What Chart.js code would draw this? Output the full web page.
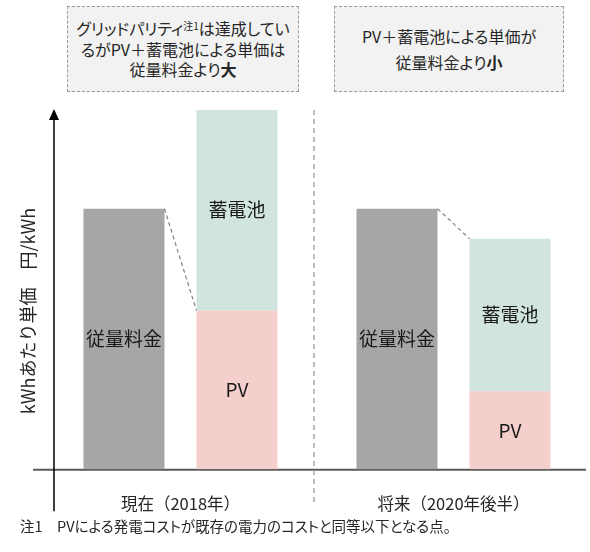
<!DOCTYPE html>
<html lang="ja">
<head>
<meta charset="utf-8">
<script src="https://cdn.jsdelivr.net/npm/chart.js@4.4.1/dist/chart.umd.min.js"></script>
<style>
  html, body { margin: 0; padding: 0; background: #fff; }
  body {
    width: 590px; height: 552px; position: relative; overflow: hidden;
    font-family: "Noto Sans CJK JP", "Noto Sans", sans-serif; color: #262626;
  }
  #wrap { position: absolute; left: 0; top: 0; width: 590px; height: 552px; }
  .note-box {
    position: absolute; top: 6px; height: 86px; box-sizing: border-box;
    border: 1.5px dashed #9a9a9a; background: #f2f2f2;
    display: flex; align-items: center; justify-content: center;
    text-align: center; font-size: 16px; font-feature-settings: "palt";
  }
  .note-box sup { font-size: 10px; line-height: 0; vertical-align: 5px; }
  .note-box b { font-weight: 700; }
  #box-now { left: 67px; width: 232px; line-height: 20.5px; }
  #box-future { left: 334px; width: 230px; line-height: 26px; }
  #footnote {
    position: absolute; left: 20px; top: 516px; font-size: 14.5px; line-height: 20px;
    white-space: nowrap; font-feature-settings: "palt";
  }
</style>
</head>
<body>
<div id="wrap"><canvas id="chart-cost"></canvas></div>

<div class="note-box" id="box-now">
  <div>グリッドパリティ<sup>注1</sup>は達成してい<br>るがPV＋蓄電池による単価は<br>従量料金より<b>大</b></div>
</div>
<div class="note-box" id="box-future">
  <div>PV＋蓄電池による単価が<br>従量料金より<b>小</b></div>
</div>
<div id="footnote">注1　PVによる発電コストが既存の電力のコストと同等以下となる点。</div>

<script>
// conceptual values (no tick labels in the original)
const categories  = ['現在（2018年）', '将来（2020年後半）']
const seriesNames = ['従量料金', 'PV', '蓄電池']
const meteredRate = [87, 87]
const pvCost      = [53, 26]
const batteryCost = [67, 51]
const yMax = 120
// which segment the dashed connector from the 従量料金 bar points to
const connectorTarget = ['PV', '蓄電池']

const FONT = '"Noto Sans CJK JP", "Noto Sans", sans-serif'

const decorPlugin = {
  id: 'decor',
  beforeDatasetsDraw(chart) {
    const { ctx, chartArea, scales: { x, y } } = chart
    const y0 = y.getPixelForValue(0)
    const yTop = y.getPixelForValue(yMax)
    ctx.save()
    // baseline
    ctx.strokeStyle = '#595959'
    ctx.lineWidth = 2
    ctx.beginPath()
    ctx.moveTo(33, y0 + 0.5)
    ctx.lineTo(chartArea.right - 4, y0 + 0.5)
    ctx.stroke()
    // separator between the two periods
    const sepX = (x.getPixelForTick(0) + x.getPixelForTick(1)) / 2 - 3
    ctx.strokeStyle = '#a6a6a6'
    ctx.lineWidth = 1.5
    ctx.setLineDash([5, 4])
    ctx.beginPath()
    ctx.moveTo(sepX, yTop)
    ctx.lineTo(sepX, y0 + 37)
    ctx.stroke()
    ctx.restore()
  },
  afterDatasetsDraw(chart) {
    const { ctx, chartArea, scales: { y } } = chart
    const y0 = y.getPixelForValue(0)
    const yTop = y.getPixelForValue(yMax)
    ctx.save()

    // y axis with arrow head
    const ax = chartArea.left + 10
    ctx.strokeStyle = '#000'
    ctx.fillStyle = '#000'
    ctx.lineWidth = 1.5
    ctx.beginPath()
    ctx.moveTo(ax, yTop + 8)
    ctx.lineTo(ax, y0 + 42)
    ctx.stroke()
    ctx.beginPath()
    ctx.moveTo(ax, yTop - 1)
    ctx.lineTo(ax - 5, yTop + 10)
    ctx.lineTo(ax + 5, yTop + 10)
    ctx.closePath()
    ctx.fill()

    // dashed connectors
    const base = chart.getDatasetMeta(0)
    ctx.strokeStyle = '#8c8c8c'
    ctx.lineWidth = 1.3
    ctx.setLineDash([4, 3])
    categories.forEach((_, i) => {
      const g = base.data[i]
      const t = chart.getDatasetMeta(seriesNames.indexOf(connectorTarget[i])).data[i]
      ctx.beginPath()
      ctx.moveTo(g.x + g.width / 2, g.y)
      ctx.lineTo(t.x - t.width / 2, t.y)
      ctx.stroke()
    })
    ctx.setLineDash([])

    // segment labels
    ctx.fillStyle = '#1a1a1a'
    ctx.font = `19px ${FONT}`
    ctx.textAlign = 'center'
    ctx.textBaseline = 'middle'
    chart.data.datasets.forEach((ds, d) => {
      chart.getDatasetMeta(d).data.forEach(el => {
        ctx.fillText(seriesNames[d], el.x, (el.y + el.base) / 2)
      })
    })

    // y axis title
    ctx.fillStyle = '#262626'
    ctx.font = `18px ${FONT}`
    ctx.translate(28, 311)
    ctx.rotate(-Math.PI / 2)
    ctx.fillText('kWhあたり単価　円/kWh', 0, 0)
    ctx.restore()
  }
}

const barOpts = { barPercentage: 0.717, categoryPercentage: 0.828, borderWidth: 0 }

new Chart(document.getElementById('chart-cost'), {
  type: 'bar',
  data: {
    labels: categories,
    datasets: [
      { label: seriesNames[0], data: meteredRate, stack: 'grid', backgroundColor: '#a6a6a6', ...barOpts },
      { label: seriesNames[1], data: pvCost, stack: 'self', backgroundColor: '#f5cfcb', ...barOpts },
      { label: seriesNames[2], data: batteryCost, stack: 'self', backgroundColor: '#d1e4de', ...barOpts },
    ]
  },
  options: {
    responsive: true, maintainAspectRatio: false,
    animation: false,
    layout: { padding: { left: 44, right: 0, top: 110, bottom: 13 } },
    plugins: { legend: { display: false }, tooltip: { enabled: false } },
    scales: {
      x: {
        stacked: true,
        grid: { display: false, drawTicks: false },
        border: { display: false },
        ticks: { color: '#262626', font: { family: FONT, size: 16.5 }, padding: 25 }
      },
      y: { display: false, stacked: true, min: 0, max: yMax }
    }
  },
  plugins: [decorPlugin]
})
</script>
</body>
</html>
